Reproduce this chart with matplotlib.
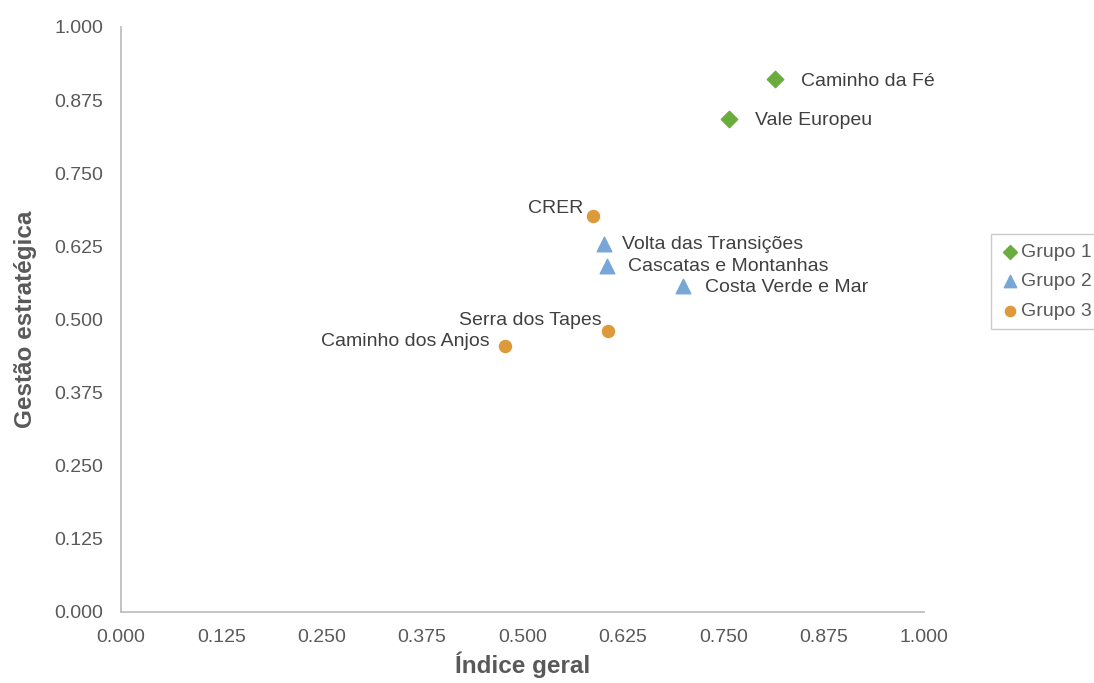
import matplotlib
matplotlib.use('Agg')
import matplotlib.pyplot as plt
from matplotlib.ticker import MultipleLocator, FormatStrFormatter

plt.rcParams['font.family'] = ['Liberation Sans', 'DejaVu Sans']

# Grupo 1
g1_names = ['Caminho da Fé', 'Vale Europeu']
g1_x = [0.814, 0.757]
g1_y = [0.911, 0.843]

# Grupo 2
g2_names = ['Volta das Transições', 'Cascatas e Montanhas', 'Costa Verde e Mar']
g2_x = [0.601, 0.605, 0.700]
g2_y = [0.629, 0.591, 0.557]

# Grupo 3
g3_names = ['CRER', 'Serra dos Tapes', 'Caminho dos Anjos']
g3_x = [0.588, 0.606, 0.478]
g3_y = [0.677, 0.480, 0.455]

# label placement (offset in points, horizontal alignment)
g1_pos = [((19, -1.5), 'left'), ((19, -1.5), 'left')]
g2_pos = [((13, 0), 'left'), ((15, 0), 'left'), ((16, -1), 'left')]
g3_pos = [((-7, 5), 'right'), ((-4, 8), 'right'), ((-11, 3), 'right')]

TXT = '#404040'
GREY = '#595959'

fig = plt.figure(figsize=(10.94, 6.83), dpi=100)
ax = fig.add_axes([0.1106, 0.1040, 0.7340, 0.8565])

ax.scatter(g1_x, g1_y, marker='D', s=70, color='#6aad3d', label='Grupo 1', zorder=3)
ax.scatter(g2_x, g2_y, marker='^', s=110, color='#78a6d6', label='Grupo 2', zorder=3)
ax.scatter(g3_x, g3_y, marker='o', s=75, color='#dc9a3a', label='Grupo 3', zorder=3)


def put_labels(names, xs, ys, pos):
    for n, x, y, (off, ha) in zip(names, xs, ys, pos):
        ax.annotate(n, (x, y), xytext=off, textcoords='offset points',
                    ha=ha, va='center', fontsize=14, color=TXT)


put_labels(g1_names, g1_x, g1_y, g1_pos)
put_labels(g2_names, g2_x, g2_y, g2_pos)
put_labels(g3_names, g3_x, g3_y, g3_pos)

ax.set_xlim(0, 1)
ax.set_ylim(0, 1)
ax.xaxis.set_major_locator(MultipleLocator(0.125))
ax.yaxis.set_major_locator(MultipleLocator(0.125))
ax.xaxis.set_major_formatter(FormatStrFormatter('%.3f'))
ax.yaxis.set_major_formatter(FormatStrFormatter('%.3f'))
ax.tick_params(length=0, labelsize=14, colors=GREY)
ax.tick_params(axis='x', pad=12)
ax.tick_params(axis='y', pad=13)

for s in ['top', 'right']:
    ax.spines[s].set_visible(False)
for s in ['left', 'bottom']:
    ax.spines[s].set_color('#bfbfbf')
    ax.spines[s].set_linewidth(1.3)

ax.set_xlabel('Índice geral', fontsize=17.5, fontweight='bold', color=GREY, labelpad=4)
ax.set_ylabel('Gestão estratégica', fontsize=17.5, fontweight='bold', color=GREY, labelpad=12)

leg = ax.legend(loc='upper left', bbox_to_anchor=(0.897, 0.672),
                bbox_transform=fig.transFigure, fontsize=14, frameon=True,
                fancybox=False, edgecolor='#bfbfbf', handletextpad=0.05,
                handlelength=1.0, borderpad=0.5, labelspacing=0.6,
                markerscale=0.85)
for t in leg.get_texts():
    t.set_color(GREY)

fig.savefig('out.png', dpi=100)
